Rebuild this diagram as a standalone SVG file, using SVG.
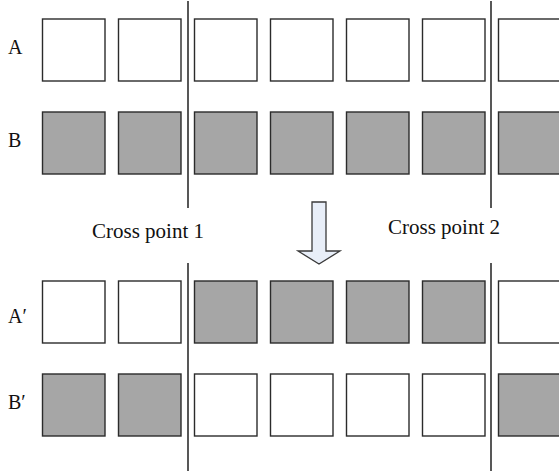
<svg xmlns="http://www.w3.org/2000/svg" width="559" height="471" viewBox="0 0 559 471">
<style>
.w{fill:#ffffff;stroke:#2b2b2b;stroke-width:1.4}
.g{fill:#a6a6a6;stroke:#2b2b2b;stroke-width:1.4}
.t{font-family:"Liberation Serif","Times New Roman",serif;font-size:20px;fill:#111}
.c{font-family:"Liberation Serif","Times New Roman",serif;font-size:21px;fill:#111}
.ln{stroke:#111;stroke-width:1.4;fill:none}
</style>
<rect width="559" height="471" fill="#fff"/>
<g id="labels">
<text class="t" x="8" y="54">A</text>
<text class="t" x="8" y="147">B</text>
<text class="t" x="8" y="323">A′</text>
<text class="t" x="8" y="409">B′</text>
<text class="c" x="92" y="237.5">Cross point 1</text>
<text class="c" x="388" y="234">Cross point 2</text>
</g>
<g id="rowA">
<rect class="w" x="42.5" y="19" width="62.5" height="62"/>
<rect class="w" x="118.5" y="19" width="62.5" height="62"/>
<rect class="w" x="194.5" y="19" width="62.5" height="62"/>
<rect class="w" x="270.5" y="19" width="62.5" height="62"/>
<rect class="w" x="346.5" y="19" width="62.5" height="62"/>
<rect class="w" x="422.5" y="19" width="62.5" height="62"/>
<rect class="w" x="498.5" y="19" width="62.5" height="62"/>
</g>
<g id="rowB">
<rect class="g" x="42.5" y="112" width="62.5" height="62"/>
<rect class="g" x="118.5" y="112" width="62.5" height="62"/>
<rect class="g" x="194.5" y="112" width="62.5" height="62"/>
<rect class="g" x="270.5" y="112" width="62.5" height="62"/>
<rect class="g" x="346.5" y="112" width="62.5" height="62"/>
<rect class="g" x="422.5" y="112" width="62.5" height="62"/>
<rect class="g" x="498.5" y="112" width="62.5" height="62"/>
</g>
<g id="rowA2">
<rect class="w" x="42.5" y="281" width="62.5" height="62"/>
<rect class="w" x="118.5" y="281" width="62.5" height="62"/>
<rect class="g" x="194.5" y="281" width="62.5" height="62"/>
<rect class="g" x="270.5" y="281" width="62.5" height="62"/>
<rect class="g" x="346.5" y="281" width="62.5" height="62"/>
<rect class="g" x="422.5" y="281" width="62.5" height="62"/>
<rect class="w" x="498.5" y="281" width="62.5" height="62"/>
</g>
<g id="rowB2">
<rect class="g" x="42.5" y="374" width="62.5" height="62"/>
<rect class="g" x="118.5" y="374" width="62.5" height="62"/>
<rect class="w" x="194.5" y="374" width="62.5" height="62"/>
<rect class="w" x="270.5" y="374" width="62.5" height="62"/>
<rect class="w" x="346.5" y="374" width="62.5" height="62"/>
<rect class="w" x="422.5" y="374" width="62.5" height="62"/>
<rect class="g" x="498.5" y="374" width="62.5" height="62"/>
</g>
<g id="connectors">
<line class="ln" x1="188" y1="1" x2="188" y2="208"/>
<line class="ln" x1="188" y1="263" x2="188" y2="471"/>
<line class="ln" x1="491" y1="1" x2="491" y2="208"/>
<line class="ln" x1="491" y1="263" x2="491" y2="471"/>
<path d="M312 202 H326 V251 H340 L319 264 L298 251 H312 Z" fill="#e8eef8" stroke="#3a3a3a" stroke-width="1.3" stroke-linejoin="miter"/>
</g>
</svg>
